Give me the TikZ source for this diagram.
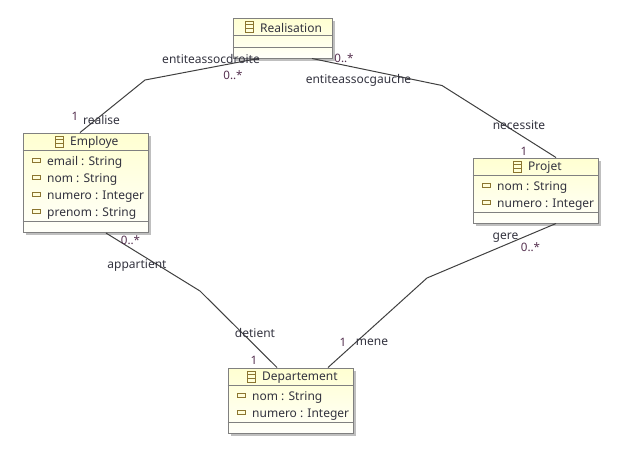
\documentclass[tikz,border=0pt]{standalone}
\usepackage{fontspec}
\setmainfont{Noto Sans}
\usepackage{xcolor}
\usepackage{tikz}
\usetikzlibrary{calc}
\usetikzlibrary{positioning}
\usetikzlibrary{shadows}
\definecolor{umlborder}{HTML}{808080}
\definecolor{umlline}{HTML}{404040}
\definecolor{umltext}{HTML}{33333F}
\definecolor{umlmult}{HTML}{55304F}
\definecolor{umlicon}{HTML}{8B7530}
\tikzset{
  classbox/.style = {rectangle, draw=umlborder, line width=1pt, top color=yellow!18!white, bottom color=yellow!2!white, inner sep=0pt, drop shadow={shadow xshift=2.5pt, shadow yshift=-2.5pt, fill=black, opacity=0.25}},
  comp/.style = {draw=umlborder, line width=1pt},
  link/.style = {draw=umlline, line width=1pt},
  classname/.style = {font=\fontsize{12}{14}\selectfont, text=umltext, inner sep=0pt, yshift=-0.8pt},
  attr/.style = {font=\fontsize{12}{14}\selectfont, text=umltext, inner sep=0pt, anchor=west, yshift=-0.8pt},
  role/.style = {font=\fontsize{12}{14}\selectfont, text=umltext, inner sep=0pt, yshift=-0.8pt},
  mult/.style = {font=\fontsize{11.6}{14}\selectfont, text=umlmult, inner sep=0pt, yshift=-0.8pt},
  attricon/.style = {rectangle, draw=umlicon, fill=yellow!15!white, line width=1pt, minimum width=8pt, minimum height=4pt, inner sep=0pt},
  classicon/.style = {rectangle, draw=umlicon, line width=1pt, minimum width=8pt, minimum height=11pt, inner sep=0pt,
    path picture={\draw [umlicon, line width=0.8pt] ([yshift=1.8pt]path picture bounding box.west) -- ([yshift=1.8pt]path picture bounding box.east);
    \draw [umlicon, line width=0.8pt] ([yshift=-1.8pt]path picture bounding box.west) -- ([yshift=-1.8pt]path picture bounding box.east);}}
}
\begin{document}
\begin{tikzpicture}[x=1pt, y=-1pt]
\useasboundingbox (0,0) rectangle (630,456);
% classes
\node [classbox, minimum width=99pt, minimum height=40pt] (Realisation) at (282.5, 38) {};
\node [classbox, minimum width=125pt, minimum height=99.5pt] (Employe) at (85.5, 182.8) {};
\node [classbox, minimum width=125pt, minimum height=65pt] (Projet) at (535.5, 190.5) {};
\node [classbox, minimum width=125pt, minimum height=65pt] (Departement) at (290.5, 400.5) {};
% compartments
\draw [comp] (Realisation.west |- 0,35.5) -- (Realisation.east |- 0,35.5);
\draw [comp] (Realisation.west |- 0,47) -- (Realisation.east |- 0,47);
\draw [comp] (Employe.west |- 0,150.5) -- (Employe.east |- 0,150.5);
\draw [comp] (Employe.west |- 0,221.5) -- (Employe.east |- 0,221.5);
\draw [comp] (Projet.west |- 0,175.5) -- (Projet.east |- 0,175.5);
\draw [comp] (Projet.west |- 0,212.5) -- (Projet.east |- 0,212.5);
\draw [comp] (Departement.west |- 0,385.5) -- (Departement.east |- 0,385.5);
\draw [comp] (Departement.west |- 0,422.5) -- (Departement.east |- 0,422.5);
% names
\node [classicon] (iconRealisation) at (249.5, 26.5) {};
\node [classname, anchor=west] (nameRealisation) at (260, 27.5) {Realisation};
\node [classicon] (iconEmploye) at (59.5, 141.5) {};
\node [classname, anchor=west] (nameEmploye) at (70, 142) {Employe};
\node [classicon] (iconProjet) at (517.5, 166.5) {};
\node [classname, anchor=west] (nameProjet) at (528, 167) {Projet};
\node [classicon] (iconDepartement) at (251.5, 376.5) {};
\node [classname, anchor=west] (nameDepartement) at (262, 377) {Departement};
% attributes
\node [attricon] (iconEmail) at (36.5, 160.5) {};
\node [attr] (email) at (47, 161.5) {email : String};
\node [attricon] (iconNomE) at (36.5, 177.5) {};
\node [attr] (nomE) at (47, 178.5) {nom : String};
\node [attricon] (iconNumeroE) at (36.5, 194.5) {};
\node [attr] (numeroE) at (47, 195.5) {numero : Integer};
\node [attricon] (iconPrenom) at (36.5, 211.5) {};
\node [attr] (prenom) at (47, 212.5) {prenom : String};
\node [attricon] (iconNomP) at (486.5, 185.5) {};
\node [attr] (nomP) at (497, 186.5) {nom : String};
\node [attricon] (iconNumeroP) at (486.5, 202.5) {};
\node [attr] (numeroP) at (497, 203.5) {numero : Integer};
\node [attricon] (iconNomD) at (241.5, 395.5) {};
\node [attr] (nomD) at (252, 396.5) {nom : String};
\node [attricon] (iconNumeroD) at (241.5, 412.5) {};
\node [attr] (numeroD) at (252, 413.5) {numero : Integer};
% associations
\coordinate (bendRealise) at (145, 80);
\coordinate (bendNecessite) at (442, 85.5);
\coordinate (bendAppartient) at (200, 291);
\coordinate (bendMene) at (427, 278);
\draw [link] ([xshift=-5.5pt]Employe.north) -- (bendRealise) -- ([xshift=-24.5pt]Realisation.south);
\draw [link] ([xshift=29.5pt]Realisation.south) -- (bendNecessite) -- ([xshift=20.5pt]Projet.north);
\draw [link] ([xshift=20.5pt]Employe.south) -- (bendAppartient) -- ([xshift=-13.5pt]Departement.north);
\draw [link] ([xshift=20.5pt]Projet.south) -- (bendMene) -- ([xshift=37.5pt]Departement.north);
% labels
\node [role] (entiteassocdroite) at (211, 58) {entiteassocdroite};
\node [mult] (multDroite) at (233, 74) {0..*};
\node [mult] (multGauche) at (344, 57) {0..*};
\node [role] (entiteassocgauche) at (358.5, 80) {entiteassocgauche};
\node [role] (realise) at (101.5, 119) {realise};
\node [mult] (multEmploye) at (75, 115.5) {1};
\node [role] (necessite) at (519, 124.5) {necessite};
\node [mult] (multProjet) at (524, 150.5) {1};
\node [mult] (multAppartient) at (130.5, 239) {0..*};
\node [role] (appartient) at (137, 265) {appartient};
\node [role] (detient) at (255, 332.5) {detient};
\node [mult] (multDetient) at (254, 360) {1};
\node [mult] (multMene) at (343, 341.5) {1};
\node [role] (mene) at (372, 341.5) {mene};
\node [role] (gere) at (505.5, 236.5) {gere};
\node [mult] (multGere) at (530.5, 246) {0..*};
\end{tikzpicture}
\end{document}
